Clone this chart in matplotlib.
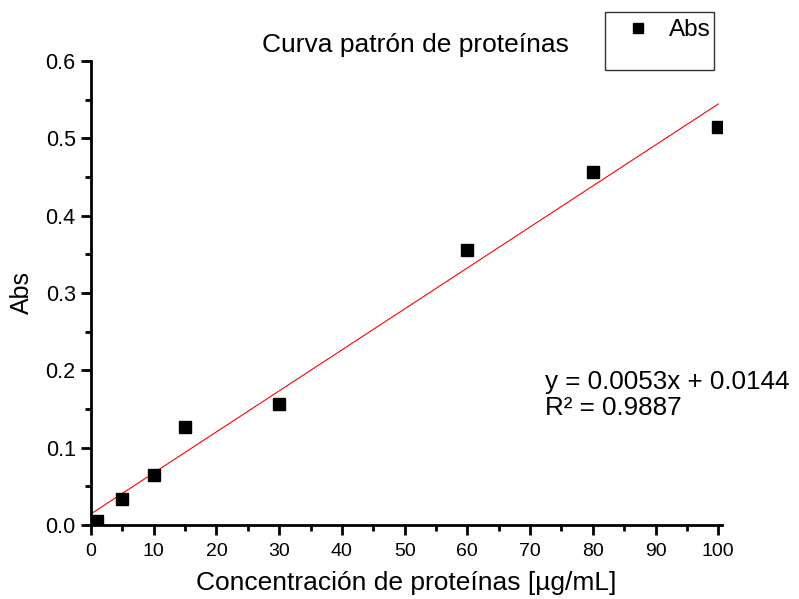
import matplotlib
matplotlib.use("Agg")
import matplotlib.pyplot as plt
from matplotlib.patches import Rectangle
from matplotlib.ticker import MultipleLocator, FormatStrFormatter

plt.rcParams['font.family'] = ['Liberation Sans', 'DejaVu Sans']

conc = [1, 5, 10, 15, 30, 60, 80, 100]
absorb = [0.005, 0.034, 0.065, 0.127, 0.157, 0.356, 0.457, 0.515]
slope = 0.0053
intercept = 0.0144
r2 = 0.9887
fit_x = [0, 100]

W, H = 799, 599
fig = plt.figure(figsize=(W/100, H/100), dpi=100)
ax = fig.add_axes([91/W, 1-525/H, (722-91)/W, (525-61)/H])

ax.plot(fit_x, [slope*x + intercept for x in fit_x], color='red', lw=0.8, zorder=2)
pts, = ax.plot(conc, absorb, 's', color='black', ms=8.5, zorder=3, label='Abs')

ax.set_xlim(0, 100.6)
ax.set_ylim(0, 0.6)
ax.xaxis.set_major_locator(MultipleLocator(10))
ax.xaxis.set_minor_locator(MultipleLocator(5))
ax.yaxis.set_major_locator(MultipleLocator(0.1))
ax.yaxis.set_minor_locator(MultipleLocator(0.05))
ax.yaxis.set_major_formatter(FormatStrFormatter('%.1f'))
for s in ['top', 'right']:
    ax.spines[s].set_visible(False)
for s in ['left', 'bottom']:
    ax.spines[s].set_linewidth(2.0)
ax.tick_params(which='major', direction='out', length=7, width=2.0)
ax.tick_params(which='minor', direction='out', length=4, width=2.0)
ax.tick_params(axis='x', which='major', labelsize=14, pad=6)
ax.tick_params(axis='y', which='major', labelsize=15.5, pad=4)
ax.set_xlabel('Concentración de proteínas [µg/mL]', fontsize=19, labelpad=8)
ax.set_ylabel('Abs', fontsize=18, labelpad=8)

fig.text(415/W, 1-45/H, 'Curva patrón de proteínas', fontsize=19, ha='center', va='center')
fig.text(545/W, 1-382/H, 'y = 0.0053x + 0.0144', fontsize=18.7, ha='left', va='center')
fig.text(545/W, 1-408/H, 'R² = 0.9887', fontsize=18.7, ha='left', va='center')

fig.patches.append(Rectangle((605/W, 1-70/H), 109/W, 58/H, transform=fig.transFigure,
                             fill=False, edgecolor='#333333', lw=1.0))
fig.legend(handles=[pts], loc='upper left', bbox_to_anchor=(603/W, 1-2/H),
           frameon=False, fontsize=17.5, markerscale=0.9, handlelength=1.5,
           handletextpad=0.5, borderpad=0.2)

fig.savefig('out.png', dpi=100)
